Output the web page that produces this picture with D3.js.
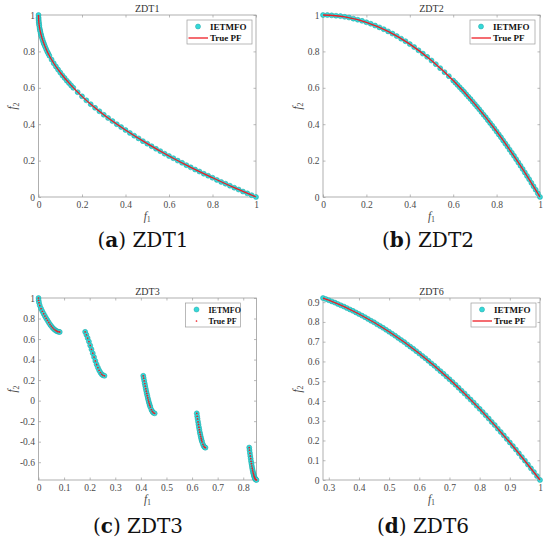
<!DOCTYPE html>
<html><head><meta charset="utf-8">
<script src="https://cdn.jsdelivr.net/npm/d3@7/dist/d3.min.js"></script>
<style>body{margin:0;background:#fff}svg{display:block}</style>
</head><body>
<svg id="chart" width="550" height="543"></svg>
<script>
// ---------------- DATA ----------------
const zdt1X=[0,.0002,.0005,.001,.0017,.0025,.0035,.005,.0065,.008,.01,.012,.014,.017,.02,.023,.026,.03,.035,.04,.045,.05,.06,.07,.08,.09,.1,.11,.12,.13,.14,.15,.16,.18,.2,.22,.24,.26,.28,.3,.32,.34,.36,.38,.4,.42,.44,.46,.48,.5,.52,.54,.56,.58,.6,.62,.64,.66,.68,.7,.72,.74,.76,.78,.8,.82,.84,.86,.88,.9,.92,.94,.96,.98,1];
const zdt1Y=[1,.986,.978,.968,.959,.95,.941,.929,.919,.911,.9,.89,.882,.87,.859,.848,.839,.827,.813,.8,.788,.776,.755,.735,.717,.7,.684,.668,.654,.639,.626,.613,.6,.576,.553,.531,.51,.49,.471,.452,.434,.417,.4,.384,.368,.352,.337,.322,.307,.293,.279,.265,.252,.238,.225,.213,.2,.188,.175,.163,.151,.14,.128,.117,.106,.094,.083,.073,.062,.051,.041,.03,.02,.01,0];
const zdt1PfX=[0,.001,.004,.01,.02,.04,.07,.1,.15,.2,.25,.3,.4,.5,.6,.7,.8,.9,1];
const zdt1PfY=[1,.968,.937,.9,.859,.8,.735,.684,.613,.553,.5,.452,.368,.293,.225,.163,.106,.051,0];

const zdt2X=[0,.02,.04,.06,.08,.1,.12,.14,.16,.18,.2,.22,.24,.26,.28,.3,.32,.34,.36,.38,.4,.42,.44,.46,.48,.5,.52,.54,.56,.58,.6,.61,.62,.63,.64,.65,.66,.67,.68,.69,.7,.71,.72,.73,.74,.75,.76,.77,.78,.79,.8,.81,.82,.83,.84,.85,.86,.87,.88,.89,.9,.91,.92,.93,.94,.95,.96,.97,.98,.99,1];
const zdt2Y=[1,1,.998,.996,.994,.99,.986,.98,.974,.968,.96,.952,.942,.932,.922,.91,.898,.884,.87,.856,.84,.824,.806,.788,.77,.75,.73,.708,.686,.664,.64,.628,.616,.603,.59,.578,.564,.551,.538,.524,.51,.496,.482,.467,.452,.438,.422,.407,.392,.376,.36,.344,.328,.311,.294,.278,.26,.243,.226,.208,.19,.172,.154,.135,.116,.098,.078,.059,.04,.02,0];
const zdt2PfX=[0,.1,.2,.3,.4,.5,.6,.7,.8,.9,1];
const zdt2PfY=[1,.99,.96,.91,.84,.75,.64,.51,.36,.19,0];

const zdt3X=[0,.0005,.002,.005,.01,.015,.02,.025,.03,.035,.04,.045,.05,.055,.06,.065,.07,.075,.08,.083,
 .1822,.187,.192,.197,.202,.207,.212,.217,.222,.227,.232,.237,.242,.247,.252,.2578,
 .4093,.411,.413,.415,.417,.419,.421,.423,.425,.427,.429,.431,.433,.435,.437,.441,.445,.449,.4539,
 .6184,.62,.6215,.6233,.625,.6268,.6285,.6303,.632,.6338,.6355,.6373,.639,.6425,.646,.6495,.6525,
 .8233,.8245,.826,.8275,.829,.8305,.832,.8335,.835,.8365,.838,.8395,.841,.8425,.844,.8455,.847,.849,.8518];
const zdt3Y=[1,.978,.955,.928,.897,.871,.847,.824,.802,.782,.762,.743,.726,.711,.698,.687,.679,.673,.670,.669,
 .670,.642,.610,.575,.538,.500,.462,.424,.387,.353,.322,.296,.274,.257,.247,.242,
 .242,.220,.193,.167,.142,.117,.093,.070,.048,.026,.006,-.013,-.031,-.047,-.062,-.088,-.107,-.119,-.124,
 -.124,-.152,-.177,-.206,-.232,-.259,-.283,-.307,-.328,-.349,-.368,-.385,-.401,-.426,-.445,-.455,-.458,
 -.457,-.482,-.511,-.539,-.565,-.591,-.614,-.637,-.658,-.677,-.695,-.710,-.724,-.737,-.747,-.757,-.764,-.770,-.773];
const zdt3PfX=zdt3X;
const zdt3PfY=zdt3Y;

const zdt6X=[.2808,.29,.3,.31,.32,.33,.34,.35,.36,.37,.38,.39,.4,.41,.42,.43,.44,.45,.46,.47,.48,.49,.5,.51,.52,.53,.54,.55,.56,.57,.58,.59,.6,.61,.62,.63,.64,.65,.66,.67,.68,.69,.7,.71,.72,.73,.74,.75,.76,.77,.78,.79,.8,.81,.82,.83,.84,.85,.86,.87,.88,.89,.9,.91,.92,.93,.94,.95,.96,.97,.98,.99,1];
const zdt6Y=[.921,.916,.91,.904,.898,.891,.884,.878,.87,.863,.856,.848,.84,.832,.824,.815,.806,.798,.788,.779,.77,.76,.75,.74,.73,.719,.708,.698,.686,.675,.664,.652,.64,.628,.616,.603,.59,.578,.564,.551,.538,.524,.51,.496,.482,.467,.452,.438,.422,.407,.392,.376,.36,.344,.328,.311,.294,.278,.26,.243,.226,.208,.19,.172,.154,.135,.116,.098,.078,.059,.04,.02,0];
const zdt6PfX=[.2808,.3,.4,.5,.6,.7,.8,.9,1];
const zdt6PfY=[.921,.91,.84,.75,.64,.51,.36,.19,0];

const xTicks01=[0,.2,.4,.6,.8,1], xTickLabels01=["0","0.2","0.4","0.6","0.8","1"];
const yTicks01=[0,.2,.4,.6,.8,1], yTickLabels01=["0","0.2","0.4","0.6","0.8","1"];
const xTicks3=[0,.1,.2,.3,.4,.5,.6,.7,.8], xTickLabels3=["0","0.1","0.2","0.3","0.4","0.5","0.6","0.7","0.8"];
const yTicks3=[-.6,-.4,-.2,0,.2,.4,.6,.8,1], yTickLabels3=["-0.6","-0.4","-0.2","0","0.2","0.4","0.6","0.8","1"];
const xTicks6=[.3,.4,.5,.6,.7,.8,.9,1], xTickLabels6=["0.3","0.4","0.5","0.6","0.7","0.8","0.9","1"];
const yTicks6=[0,.1,.2,.3,.4,.5,.6,.7,.8,.9], yTickLabels6=["0","0.1","0.2","0.3","0.4","0.5","0.6","0.7","0.8","0.9"];

const titles=["ZDT1","ZDT2","ZDT3","ZDT6"];
const captionLetters=["a","b","c","d"];
const seriesNames=["IETMFO","True PF"];

// ---------------- LAYOUT ----------------
const panels=[
 {title:titles[0],letter:captionLetters[0],x:38.5,y:15,w:217.5,h:182,xd:[0,1],yd:[0,1],xt:xTicks01,xl:xTickLabels01,yt:yTicks01,yl:yTickLabels01,
  px:zdt1X,py:zdt1Y,fx:zdt1PfX,fy:zdt1PfY,pfDots:false,capX:143,capY:247,legW:65,legInset:4,legFont:9},
 {title:titles[1],letter:captionLetters[1],x:323,y:15,w:217,h:182,xd:[0,1],yd:[0,1],xt:xTicks01,xl:xTickLabels01,yt:yTicks01,yl:yTickLabels01,
  px:zdt2X,py:zdt2Y,fx:zdt2PfX,fy:zdt2PfY,pfDots:false,capX:428,capY:247,legW:65,legInset:5,legFont:9},
 {title:titles[2],letter:captionLetters[2],x:38.5,y:298,w:218,h:182,xd:[0,.8518],yd:[-.7733,1],xt:xTicks3,xl:xTickLabels3,yt:yTicks3,yl:yTickLabels3,
  px:zdt3X,py:zdt3Y,fx:zdt3PfX,fy:zdt3PfY,pfDots:true,capX:138,capY:533,legW:55,legInset:16,legFont:8},
 {title:titles[3],letter:captionLetters[3],x:323,y:298,w:217,h:182,xd:[.2808,1],yd:[0,.9211],xt:xTicks6,xl:xTickLabels6,yt:yTicks6,yl:yTickLabels6,
  px:zdt6X,py:zdt6Y,fx:zdt6PfX,fy:zdt6PfY,pfDots:false,capX:423,capY:533,legW:65,legInset:4,legFont:9}
];

const SERIF="'Liberation Serif','Times New Roman',Times,serif";
const AX="#9c9c9c", LBL="#4a4a4a", CYAN="#35d8d8", CYAN_E="#1fa5a5", RED="#ee1c24";
const svg=d3.select("#chart");

panels.forEach(p=>{
  const g=svg.append("g").attr("transform",`translate(${p.x},${p.y})`);
  const x=d3.scaleLinear().domain(p.xd).range([0,p.w]);
  const y=d3.scaleLinear().domain(p.yd).range([p.h,0]);

  // axes
  const fx=(d)=>p.xl[p.xt.indexOf(d)], fy=(d)=>p.yl[p.yt.indexOf(d)];
  const bx=g.append("g").attr("transform",`translate(0,${p.h})`)
    .call(d3.axisBottom(x).tickValues(p.xt).tickFormat(fx).tickSizeInner(-2.5).tickSizeOuter(0).tickPadding(4.5));
  const tx=g.append("g").call(d3.axisTop(x).tickValues(p.xt).tickFormat("").tickSizeInner(-2.5).tickSizeOuter(0));
  const ly=g.append("g").call(d3.axisLeft(y).tickValues(p.yt).tickFormat(fy).tickSizeInner(-2.5).tickSizeOuter(0).tickPadding(3.5));
  const ry=g.append("g").attr("transform",`translate(${p.w},0)`)
    .call(d3.axisRight(y).tickValues(p.yt).tickFormat("").tickSizeInner(-2.5).tickSizeOuter(0));
  [bx,tx,ly,ry].forEach(a=>{
    a.attr("font-family",SERIF).attr("font-size",9.5);
    a.select(".domain").remove();
    a.selectAll(".tick line").attr("stroke",AX).attr("stroke-width",0.7);
    a.selectAll(".tick text").attr("fill",LBL).style("font-family",SERIF).style("font-size","9.5px");
  });
  g.append("rect").attr("x",0).attr("y",0).attr("width",p.w).attr("height",p.h)
    .attr("fill","none").attr("stroke",AX).attr("stroke-width",0.8);

  // title
  g.append("text").attr("x",p.w/2).attr("y",-3.5).attr("text-anchor","middle")
    .style("font-family",SERIF).style("font-size","10px").attr("fill","#333").text(p.title);

  // axis labels
  const xlab=g.append("text").attr("x",p.w/2).attr("y",p.h+22.5).attr("text-anchor","middle")
    .style("font-family",SERIF).attr("fill",LBL);
  xlab.append("tspan").style("font-style","italic").style("font-size","11.5px").text("f");
  xlab.append("tspan").attr("dy",2.5).style("font-size","8px").text("1");
  const ylab=g.append("text").attr("transform",`translate(${-22.5},${p.h/2}) rotate(-90)`).attr("text-anchor","middle")
    .style("font-family",SERIF).attr("fill",LBL);
  ylab.append("tspan").style("font-style","italic").style("font-size","11.5px").text("f");
  ylab.append("tspan").attr("dy",2.5).style("font-size","8px").text("2");

  // IETMFO points
  const pts=p.px.map((v,i)=>[v,p.py[i]]);
  g.append("g").selectAll("circle").data(pts).join("circle")
    .attr("cx",d=>x(d[0])).attr("cy",d=>y(d[1])).attr("r",2.5)
    .attr("fill",CYAN).attr("stroke",CYAN_E).attr("stroke-width",0.5);

  // True PF
  const pf=p.fx.map((v,i)=>[v,p.fy[i]]);
  if(p.pfDots){
    g.append("g").selectAll("circle").data(pf).join("circle")
      .attr("cx",d=>x(d[0])).attr("cy",d=>y(d[1])).attr("r",0.85).attr("fill",RED);
  } else {
    g.append("path").datum(pf)
      .attr("d",d3.line().x(d=>x(d[0])).y(d=>y(d[1])).curve(d3.curveMonotoneX))
      .attr("fill","none").attr("stroke",RED).attr("stroke-width",1.3);
  }

  // legend
  const L=p.w-p.legInset-p.legW, T=5;
  const lg=g.append("g").attr("transform",`translate(${L},${T})`);
  lg.append("rect").attr("width",p.legW).attr("height",24).attr("fill","#fff").attr("stroke",AX).attr("stroke-width",0.7);
  lg.append("circle").attr("cx",11).attr("cy",6.5).attr("r",2.5).attr("fill",CYAN).attr("stroke",CYAN_E).attr("stroke-width",0.5);
  if(p.pfDots){
    lg.append("circle").attr("cx",11).attr("cy",18).attr("r",0.85).attr("fill",RED);
  } else {
    lg.append("line").attr("x1",1.5).attr("x2",21).attr("y1",18).attr("y2",18).attr("stroke",RED).attr("stroke-width",1.3);
  }
  seriesNames.forEach((s,i)=>{
    lg.append("text").attr("x",23).attr("y",i?21:9.7)
      .style("font-family",SERIF).style("font-weight","bold").style("font-size",p.legFont+"px")
      .attr("fill","#111").text(s);
  });

  // caption
  const cap=svg.append("text").attr("x",p.capX).attr("y",p.capY).attr("text-anchor","middle")
    .style("font-family","'DejaVu Serif',serif").style("font-size","20px").attr("fill","#111");
  cap.append("tspan").text("(");
  cap.append("tspan").style("font-weight","bold").text(p.letter);
  cap.append("tspan").text(") "+p.title);
});
</script>
</body></html>
